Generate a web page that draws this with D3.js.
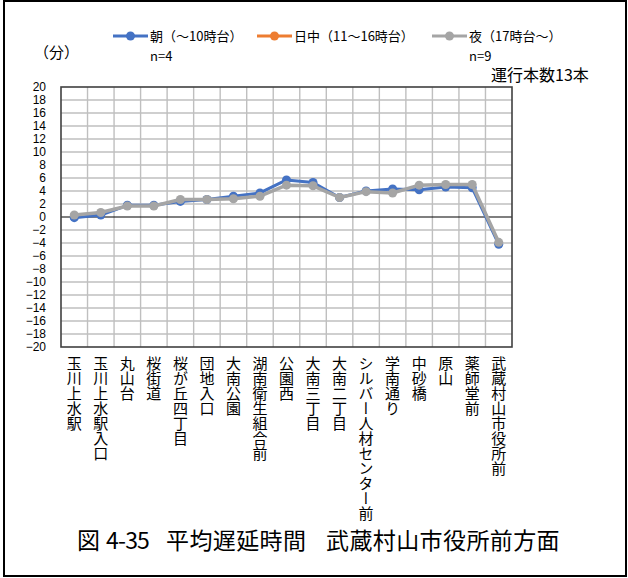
<!DOCTYPE html>
<html>
<head>
<meta charset="utf-8">
<script src="https://cdn.jsdelivr.net/npm/d3@7"></script>
<style>
  html, body { margin: 0; padding: 0; background: #fff; }
  svg { display: block; }
  text { font-family: "Noto Sans CJK JP", sans-serif; fill: #000; }
  .tick-y { font-family: "Liberation Sans", Arial, sans-serif; font-size: 12px; }
</style>
</head>
<body>
<svg id="chart" width="628" height="578"></svg>
<script>
// Bus stops along the route (toward 武蔵村山市役所前)
const stops = ["玉川上水駅", "玉川上水駅入口", "丸山台", "桜街道", "桜が丘四丁目", "団地入口",
  "大南公園", "湖南衛生組合前", "公園西", "大南三丁目", "大南二丁目", "シルバー人材センター前",
  "学南通り", "中砂橋", "原山", "薬師堂前", "武蔵村山市役所前"];

// Average delay (minutes) per time band
const morning = [-0.1, 0.3, 1.8, 1.8, 2.4, 2.7, 3.2, 3.7, 5.7, 5.3, 3.0, 4.0, 4.3, 4.2, 4.6, 4.5, -4.2];
const daytime = [];
const evening = [0.3, 0.7, 1.7, 1.7, 2.7, 2.7, 2.8, 3.2, 4.9, 4.8, 3.0, 3.9, 3.7, 4.9, 5.0, 5.0, -3.9];

const seriesNames = ["朝（～10時台）", "日中（11～16時台）", "夜（17時台～）"];
const seriesCounts = ["n=4", "", "n=9"];
const yTicks = d3.range(-20, 21, 2);

// caption pieces
const captionParts = ["図", "4-35", "平均遅延時間", "武蔵村山市役所前方面"];

const colors = ["#4472C4", "#ED7D31", "#A5A5A5"];
const series = [morning, daytime, evening];

const svg = d3.select("#chart");

// outer frame
svg.append("rect")
  .attr("x", 4).attr("y", 1).attr("width", 622).attr("height", 575)
  .attr("fill", "none").attr("stroke", "#000").attr("stroke-width", 2);

const plot = { left: 61, right: 512, top: 87, bottom: 347 };

const x = d3.scaleBand().domain(stops).range([plot.left, plot.right]).padding(0);
const y = d3.scaleLinear().domain([-20, 20]).range([plot.bottom, plot.top]);

// gridlines
const grid = svg.append("g");
grid.selectAll("line.h").data(yTicks.filter(d => d !== 0 && d !== 20 && d !== -20)).join("line")
  .attr("x1", plot.left).attr("x2", plot.right)
  .attr("y1", d => y(d)).attr("y2", d => y(d))
  .attr("stroke", "#BFBFBF").attr("stroke-width", 1.4);
grid.selectAll("line.v").data(stops.slice(1)).join("line")
  .attr("x1", d => x(d)).attr("x2", d => x(d))
  .attr("y1", plot.top).attr("y2", plot.bottom)
  .attr("stroke", "#BFBFBF").attr("stroke-width", 1.4);

// zero line
svg.append("line")
  .attr("x1", plot.left).attr("x2", plot.right)
  .attr("y1", y(0)).attr("y2", y(0))
  .attr("stroke", "#000").attr("stroke-width", 1.2);

// plot border
svg.append("rect")
  .attr("x", plot.left).attr("y", plot.top)
  .attr("width", plot.right - plot.left).attr("height", plot.bottom - plot.top)
  .attr("fill", "none").attr("stroke", "#404040").attr("stroke-width", 1.6);

// y axis labels
const yAxis = d3.axisLeft(y).tickValues(yTicks).tickSize(0).tickPadding(15)
  .tickFormat(d => d < 0 ? "\u2212" + Math.abs(d) : String(d));
const yg = svg.append("g").attr("transform", `translate(${plot.left},0)`).call(yAxis);
yg.select(".domain").remove();
yg.selectAll("text").attr("class", "tick-y").attr("fill", "#000");

// x labels (vertical writing)
svg.append("g").selectAll("text").data(stops).join("text")
  .attr("x", d => x(d) + x.bandwidth() / 2)
  .attr("y", 356)
  .attr("writing-mode", "vertical-rl")
  .style("font-size", "15px")
  .text(d => d);

// series lines + markers
const line = d3.line()
  .x((d, i) => x(stops[i]) + x.bandwidth() / 2)
  .y(d => y(d));

const widths = [3, 3, 3.5];
series.forEach((vals, si) => {
  if (!vals.length) return;
  const g = svg.append("g");
  g.append("path").datum(vals)
    .attr("d", line)
    .attr("fill", "none")
    .attr("stroke", colors[si])
    .attr("stroke-width", widths[si])
    .attr("stroke-linejoin", "round");
  g.selectAll("circle").data(vals).join("circle")
    .attr("cx", (d, i) => x(stops[i]) + x.bandwidth() / 2)
    .attr("cy", d => y(d))
    .attr("r", 4.5)
    .attr("fill", colors[si]);
});

// legend
const legendX = [113, 257, 432];
const legend = svg.append("g");
seriesNames.forEach((name, i) => {
  const lx = legendX[i];
  legend.append("line")
    .attr("x1", lx).attr("x2", lx + 35)
    .attr("y1", 36).attr("y2", 36)
    .attr("stroke", colors[i]).attr("stroke-width", 3);
  legend.append("circle")
    .attr("cx", lx + 17.5).attr("cy", 36).attr("r", 4.5)
    .attr("fill", colors[i]);
  legend.append("text")
    .attr("x", lx + 37).attr("y", 41)
    .style("font-size", "13px")
    .text(name);
  if (seriesCounts[i]) {
    legend.append("text")
      .attr("x", lx + 37).attr("y", 61)
      .style("font-size", "13px")
      .text(seriesCounts[i]);
  }
});

// unit label and trip count
svg.append("text").attr("x", 34).attr("y", 58)
  .style("font-size", "15px").text("（分）");
svg.append("text").attr("x", 491).attr("y", 81)
  .style("font-size", "16px").text("運行本数13本");

// caption
const capX = [77, 106, 166, 326];
const cap = svg.append("text").attr("y", 549).style("font-size", "23px");
cap.selectAll("tspan").data(captionParts).join("tspan")
  .attr("x", (d, i) => capX[i])
  .style("letter-spacing", (d, i) => i === 1 ? "-0.8px" : "0.4px")
  .text(d => d);
</script>
</body>
</html>
